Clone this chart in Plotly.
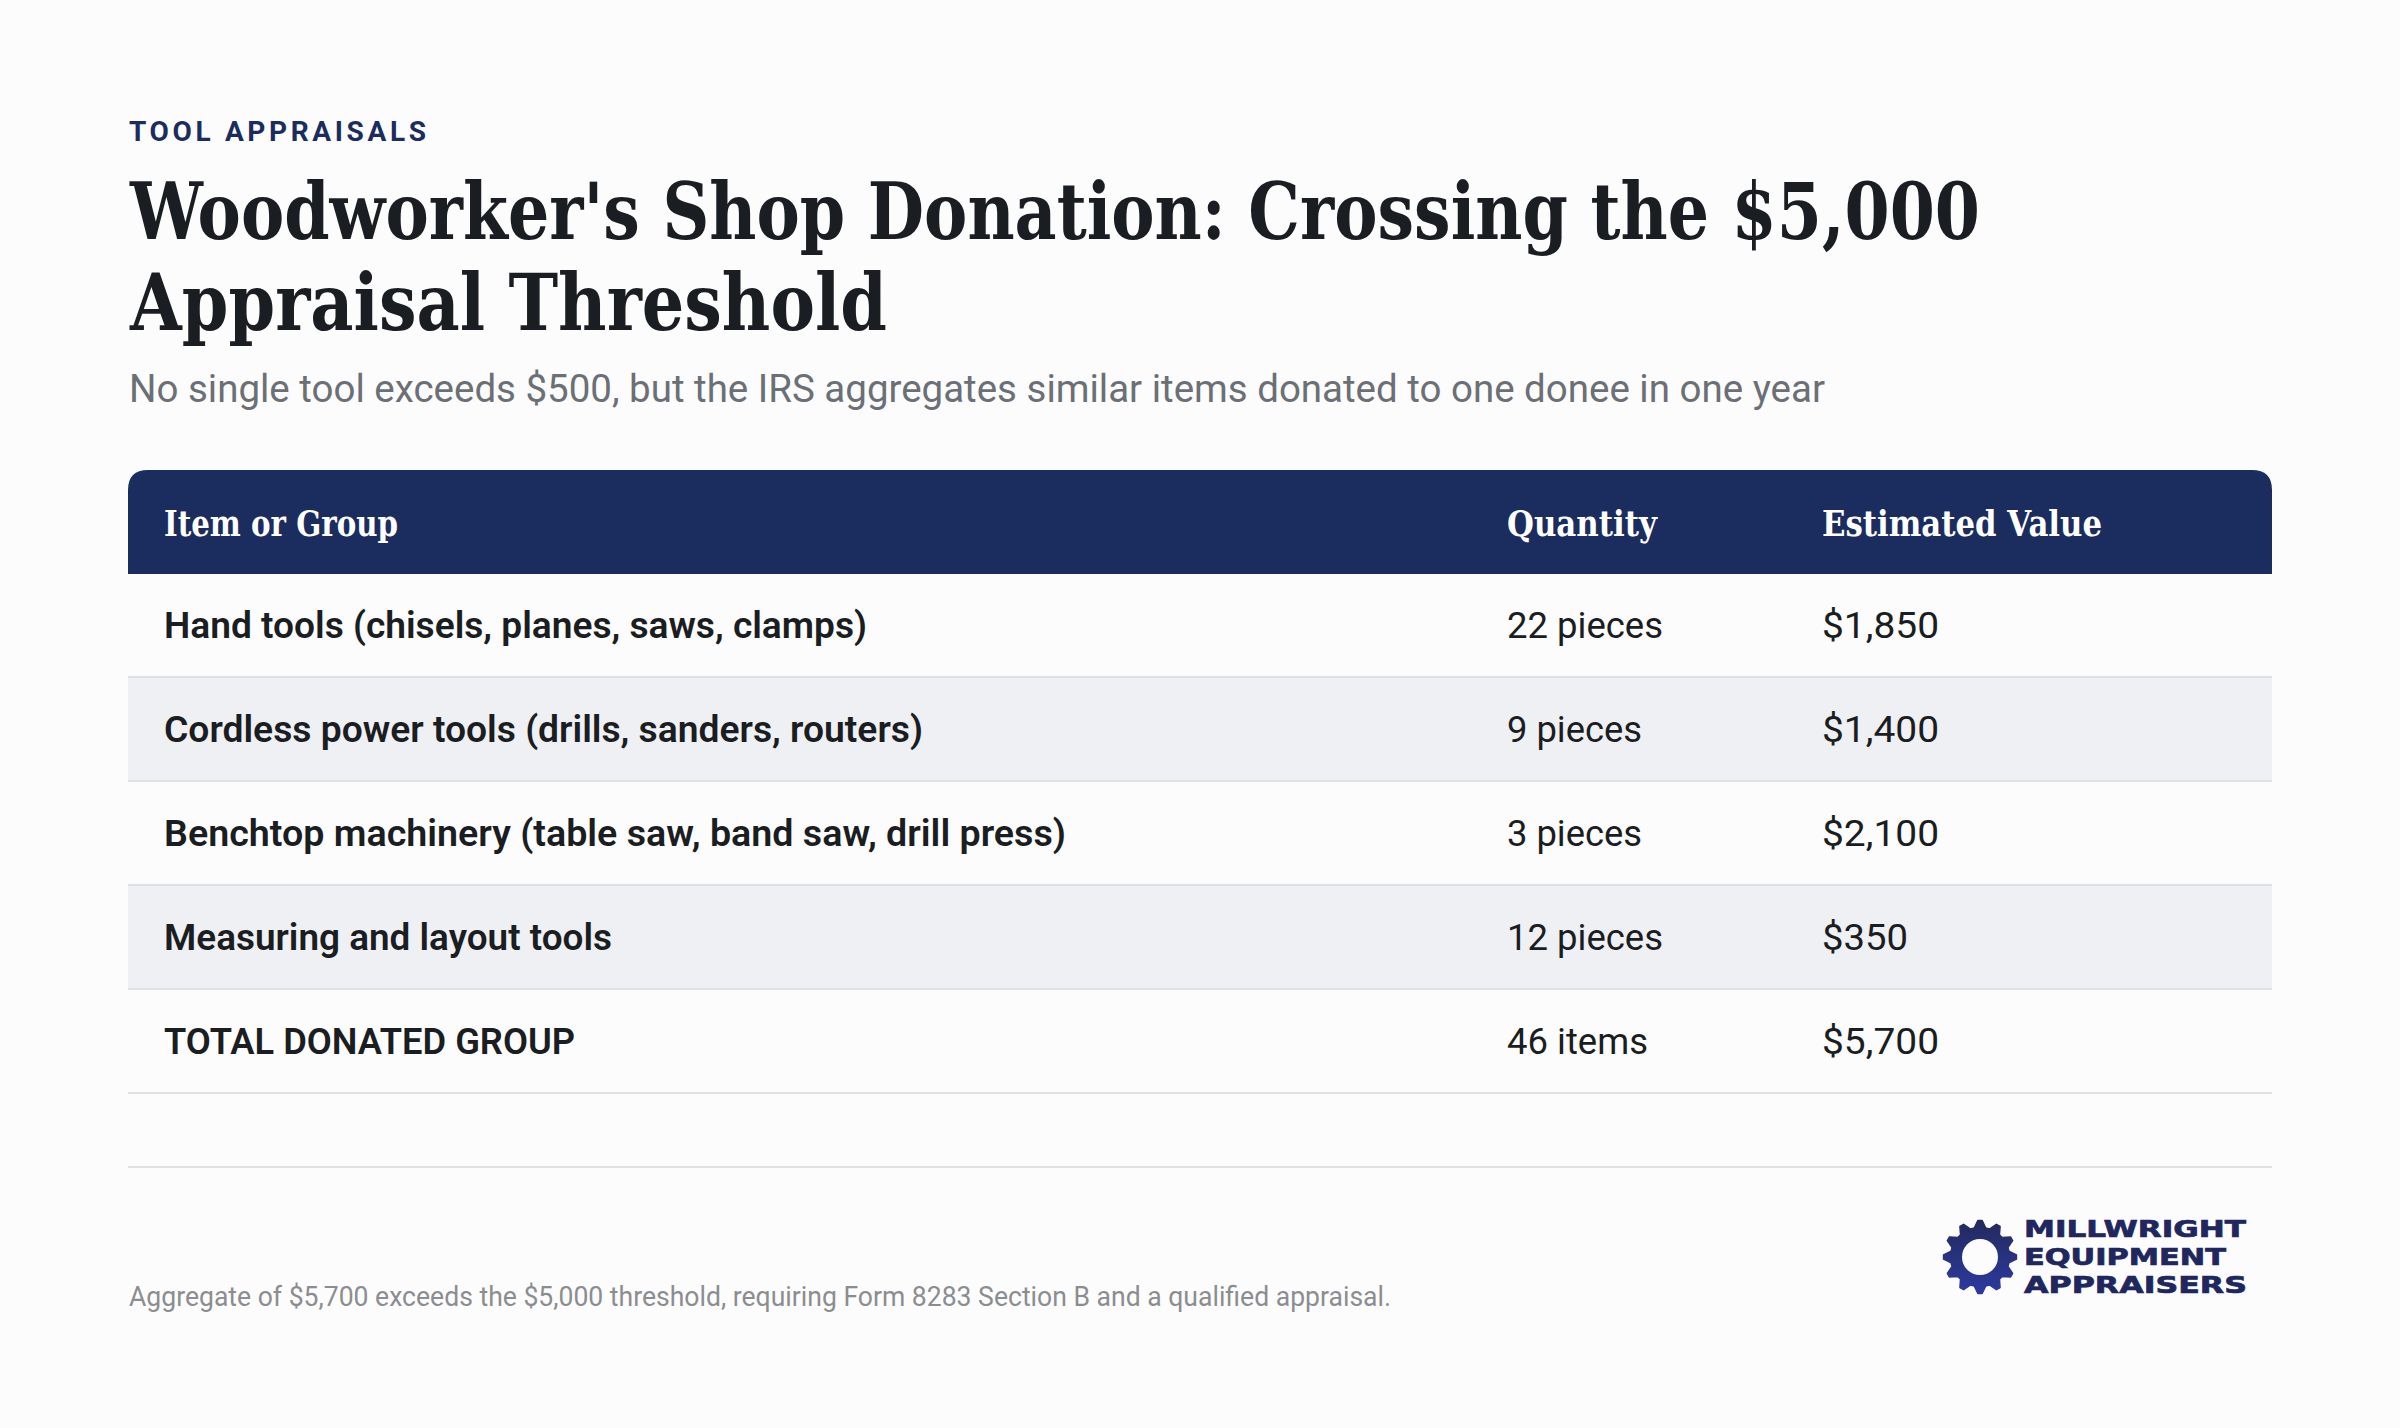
import base64
import json
import math
import plotly.graph_objects as go

W, H = 2400, 1428
BG = "#fcfcfd"
NAVY = "#1b2c5e"
INK = "#1a1d21"
BAND = "#eff0f4"
RULE = "#e0e1e3"
SERIF = "DejaVu Serif"
SANS = "Roboto"

EYEBROW = "TOOL APPRAISALS"
TITLE_1 = "Woodworker's Shop Donation: Crossing the $5,000"
TITLE_2 = "Appraisal Threshold"
SUBTITLE = "No single tool exceeds $500, but the IRS aggregates similar items donated to one donee in one year"
FOOTNOTE = "Aggregate of $5,700 exceeds the $5,000 threshold, requiring Form 8283 Section B and a qualified appraisal."
LOGO_LINES = ["MILLWRIGHT", "EQUIPMENT", "APPRAISERS"]

COLUMNS = ["Item or Group", "Quantity", "Estimated Value"]
ITEMS = [
    "Hand tools (chisels, planes, saws, clamps)",
    "Cordless power tools (drills, sanders, routers)",
    "Benchtop machinery (table saw, band saw, drill press)",
    "Measuring and layout tools",
    "TOTAL DONATED GROUP",
]
QUANTITIES = ["22 pieces", "9 pieces", "3 pieces", "12 pieces", "46 items"]
VALUES = ["$1,850", "$1,400", "$2,100", "$350", "$5,700"]

TABLE_L, TABLE_R, TABLE_T, ROW_H = 128, 2272, 470, 104
COL_X = [36, 1379, 1694]  # column text offsets inside the table, px
BODY_SHIFT = 3            # font-metric nudge for body text, px
HEAD_SHIFT = 5            # font-metric nudge for header text, px

# rendered widths of the reference's text, px (fallback fonts are fitted to these)
FIT_GLYPHS = {
    TITLE_1: 1850, TITLE_2: 757, SUBTITLE: 1696, FOOTNOTE: 1262,
    COLUMNS[0]: 234, COLUMNS[1]: 150, COLUMNS[2]: 280,
    ITEMS[0]: 703, ITEMS[1]: 759, ITEMS[2]: 902, ITEMS[3]: 448, ITEMS[4]: 411,
    "22 pieces": 156, "9 pieces": 135, "3 pieces": 135, "12 pieces": 156, "46 items": 141,
    "$1,850": 117, "$1,400": 117, "$2,100": 117, "$350": 86, "$5,700": 117,
    LOGO_LINES[0]: 222, LOGO_LINES[1]: 202, LOGO_LINES[2]: 223,
}
FIT_SPACING = {EYEBROW: 297}
HEAVY = LOGO_LINES


def px(x):
    return x / W


def py(y):
    return 1 - y / H


def gear_svg():
    pts = []
    n = 12
    ro, rr = 36.5, 29.5
    step = 2 * math.pi / n
    for i in range(n):
        a = step * i
        for da, r in ((-0.30, rr), (-0.09, ro), (0.09, ro), (0.30, rr)):
            t = a + da * step * 1.25
            pts.append(f"{40 + r * math.sin(t):.2f},{40 - r * math.cos(t):.2f}")
    svg = (
        '<svg xmlns="http://www.w3.org/2000/svg" width="80" height="80" viewBox="0 0 80 80">'
        '<defs><linearGradient id="g" x1="0" y1="0" x2="0" y2="1">'
        '<stop offset="0" stop-color="#232a5c"/><stop offset="1" stop-color="#2c3aa0"/>'
        "</linearGradient></defs>"
        f'<polygon points="{" ".join(pts)}" fill="url(#g)" stroke="url(#g)" stroke-width="1.5" stroke-linejoin="round"/>'
        f'<circle cx="40" cy="40" r="18" fill="{BG}"/></svg>'
    )
    return "data:image/svg+xml;base64," + base64.b64encode(svg.encode()).decode()


fig = go.Figure()
row_cats = [COLUMNS[0]] + ITEMS
table_w = TABLE_R - TABLE_L

fig.add_trace(go.Bar(
    y=ITEMS, x=[table_w] * len(ITEMS), orientation="h", width=1,
    marker=dict(color=[BG, BAND, BG, BAND, BG], line=dict(width=0)),
    hoverinfo="skip", showlegend=False,
))


def text_trace(xs, ys, texts, family, size, color, weight, axis="y2"):
    return go.Scatter(
        x=xs, y=ys, yaxis=axis, mode="text", text=texts,
        textposition="middle right", cliponaxis=False,
        textfont=dict(family=family, size=size, color=color, weight=weight),
        hoverinfo="skip", showlegend=False,
    )


fig.add_trace(text_trace(COL_X, [COLUMNS[0]] * 3, COLUMNS, SERIF, 35, "#ffffff", 700, axis="y3"))
fig.add_trace(text_trace([COL_X[0]] * 5, ITEMS, ITEMS, SANS, 36, INK, 600))
fig.add_trace(text_trace([COL_X[1]] * 5, ITEMS, QUANTITIES, SANS, 36, INK, 400))
fig.add_trace(text_trace([COL_X[2]] * 5, ITEMS, VALUES, SANS, 36, INK, 400))

shapes = []
r = 20
l, rgt, t, b = px(TABLE_L), px(TABLE_R), py(TABLE_T), py(TABLE_T + ROW_H)
rx, ry = r / W, r / H
shapes.append(dict(
    type="path", xref="paper", yref="paper", layer="below",
    path=(f"M {l} {b} L {l} {t - ry} Q {l} {t} {l + rx} {t} L {rgt - rx} {t} "
          f"Q {rgt} {t} {rgt} {t - ry} L {rgt} {b} Z"),
    fillcolor=NAVY, line=dict(width=0),
))
for i in range(1, 6):
    y = py(TABLE_T + ROW_H * (i + 1) - 1)
    shapes.append(dict(type="line", xref="paper", yref="paper", x0=l, x1=rgt, y0=y, y1=y,
                       line=dict(color=RULE, width=2)))
y = py(1167)
shapes.append(dict(type="line", xref="paper", yref="paper", x0=l, x1=rgt, y0=y, y1=y,
                   line=dict(color=RULE, width=2)))


def note(text, x, y, family, size, color, weight=400):
    return dict(text=text, x=px(x), y=py(y), xref="paper", yref="paper", xanchor="left",
                yanchor="middle", showarrow=False, align="left", borderpad=0,
                font=dict(family=family, size=size, color=color, weight=weight))


annotations = [
    note(EYEBROW, 128, 131, SANS, 28, NAVY, 700),
    note(TITLE_1, 128, 211, SERIF, 78, INK, 700),
    note(TITLE_2, 128, 302, SERIF, 78, INK, 700),
    note(SUBTITLE, 128, 389, SANS, 38, "#6b6f76"),
    note(FOOTNOTE, 128, 1297, SANS, 27, "#8b8d90"),
]
for line, y in zip(LOGO_LINES, (1229, 1257, 1285)):
    annotations.append(note(line, 2023, y, "DejaVu Sans", 23, "#20275e", 700))


def cat_axis(shift):
    return dict(domain=[py(TABLE_T + ROW_H * 6 + shift), py(TABLE_T + shift)], type="category",
                categoryorder="array", categoryarray=row_cats, range=[5.5, -0.5],
                visible=False, fixedrange=True, anchor="x")


fig.update_layout(
    width=W, height=H, margin=dict(l=0, r=0, t=0, b=0),
    paper_bgcolor=BG, plot_bgcolor="rgba(0,0,0,0)", showlegend=False, bargap=0,
    xaxis=dict(domain=[px(TABLE_L), px(TABLE_R)], range=[0, table_w], visible=False, fixedrange=True),
    yaxis=cat_axis(0), yaxis2=cat_axis(BODY_SHIFT), yaxis3=cat_axis(HEAD_SHIFT),
    shapes=shapes, annotations=annotations,
    images=[dict(source=gear_svg(), xref="paper", yref="paper", x=px(1940), y=py(1217),
                 sizex=px(80), sizey=80 / H, xanchor="left", yanchor="top", layer="above")],
)

post_script = """
document.documentElement.style.background = '%(bg)s';
document.body.style.margin = '0';
document.body.style.background = '%(bg)s';
(function () {
  var glyphs = %(glyphs)s, spacing = %(spacing)s, heavy = %(heavy)s;
  function fit() {
    document.querySelectorAll('svg text').forEach(function (el) {
      var s = el.textContent;
      if (glyphs[s]) {
        el.setAttribute('textLength', glyphs[s]);
        el.setAttribute('lengthAdjust', 'spacingAndGlyphs');
      } else if (spacing[s]) {
        el.setAttribute('textLength', spacing[s]);
        el.setAttribute('lengthAdjust', 'spacing');
      }
      if (heavy.indexOf(s) >= 0) {
        el.style.stroke = '#20275e';
        el.style.strokeWidth = '0.7px';
      }
    });
  }
  fit();
  setTimeout(fit, 50);
  setTimeout(fit, 400);
  window.addEventListener('load', fit);
})();
""" % {"bg": BG, "glyphs": json.dumps(FIT_GLYPHS), "spacing": json.dumps(FIT_SPACING), "heavy": json.dumps(HEAVY)}

fig.write_html("out.html", config={"displayModeBar": False}, post_script=post_script)
